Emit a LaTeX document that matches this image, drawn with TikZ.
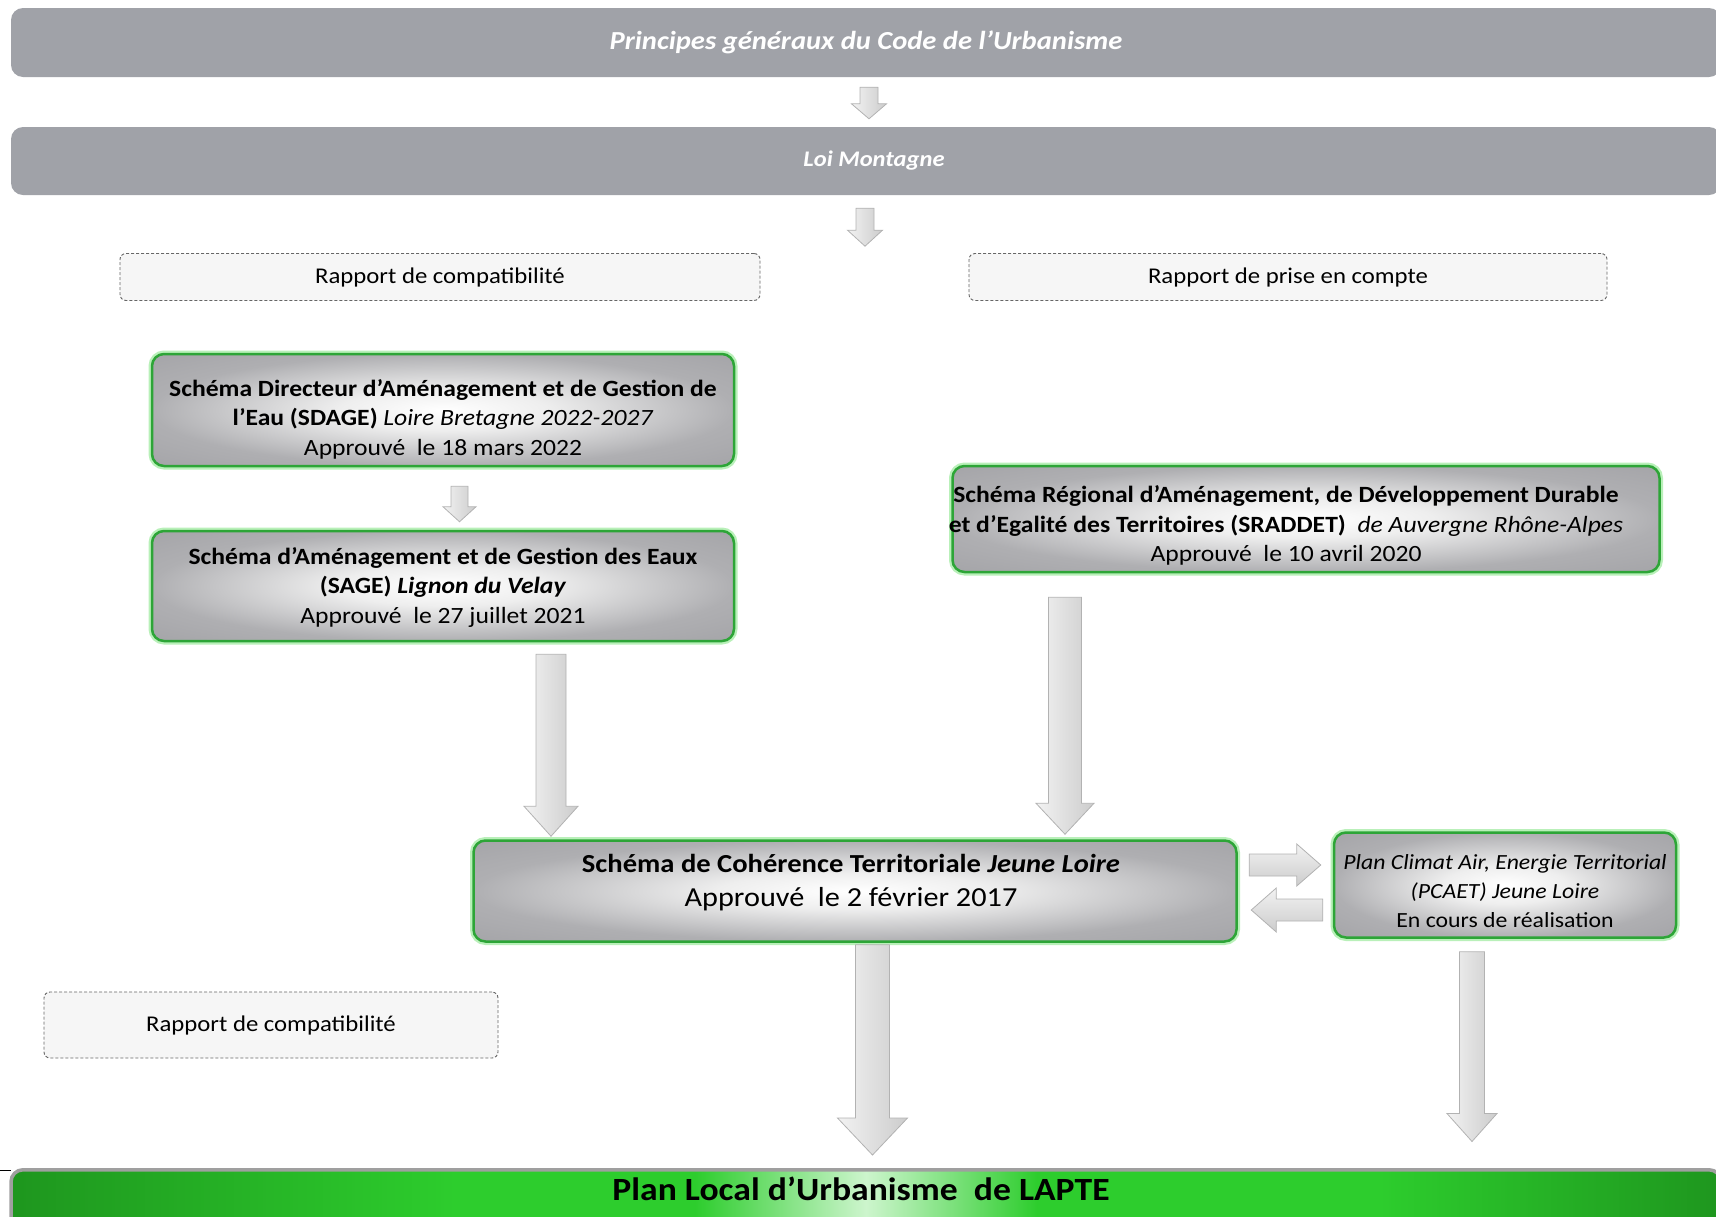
\documentclass[tikz,border=0pt]{standalone}
\usepackage{fontspec}
\setmainfont{Carlito}[FakeStretch=1.1]
\usetikzlibrary{calc}

\definecolor{grisbandeau}{RGB}{160,162,168}
\definecolor{vertbord}{RGB}{45,165,55}
\definecolor{vertlueur}{RGB}{185,240,185}
\definecolor{vertfonce}{RGB}{30,150,30}
\definecolor{vertvif}{RGB}{45,205,45}
\definecolor{vertclair}{RGB}{205,245,205}
\definecolor{grisclair}{RGB}{238,238,238}
\definecolor{grismoyen}{RGB}{175,175,178}
\definecolor{grisbord}{RGB}{160,160,164}

\pgfdeclareradialshading{boitegrise}{\pgfpoint{0bp}{0bp}}{color(0bp)=(white); color(9bp)=(grisclair); color(25bp)=(grismoyen); color(40bp)=(grisbord)}
\pgfdeclarehorizontalshading{plu}{100bp}{color(0bp)=(vertfonce); color(25bp)=(vertfonce); color(38bp)=(vertvif); color(45bp)=(vertvif); color(50bp)=(vertclair); color(55bp)=(vertvif); color(65bp)=(vertvif); color(75bp)=(vertfonce); color(100bp)=(vertfonce)}

\tikzset{
  bandeau/.style={fill=grisbandeau, rounded corners=12pt, minimum width=1710pt, inner sep=0pt,
    text=white, font=\bfseries\itshape},
  boite/.style={shading=boitegrise, draw=vertbord, line width=2.5pt, rounded corners=12pt,
    preaction={draw=vertlueur, line width=7pt}, inner sep=0pt},
  texte/.style={align=center, inner sep=0pt, font=\fontsize{23.3}{29.5}\selectfont},
  rapport/.style={draw=gray!80!black, line width=0.9pt, dash pattern=on 3pt off 2pt, fill=gray!7,
    rounded corners=6pt, inner sep=0pt, font=\fontsize{22.5}{26}\selectfont},
  fleche/.style={draw=gray!60, line width=0.8pt, left color=gray!10, right color=gray!40},
  flecheh/.style={top color=gray!10, bottom color=gray!40},
}

% fleche pleine : [style] {depart} {arrivee} {demi-corps} {demi-tete} {longueur tete}
\newcommand{\fleche}[6][]{%
  \coordinate (fd) at #2;
  \coordinate (ff) at #3;
  \coordinate (fb) at ($(ff)!#6!(fd)$);
  \draw[fleche,#1] ($(fd)!#4!90:(ff)$) -- ($(fb)!#4!90:(ff)$) -- ($(fb)!#5!90:(ff)$) -- (ff)
    -- ($(fb)!#5!-90:(ff)$) -- ($(fb)!#4!-90:(ff)$) -- ($(fd)!#4!-90:(ff)$) -- cycle;
}

\begin{document}
\begin{tikzpicture}[x=1pt,y=-1pt]

\useasboundingbox (0,0) rectangle (1716,1216);

% Bandeaux du haut
\node[bandeau, minimum height=69pt, font=\fontsize{26}{30}\selectfont\bfseries\itshape] (principes) at (866,42.5) {Principes généraux du Code de l’Urbanisme};
\node[bandeau, minimum height=68pt, font=\fontsize{22.3}{26}\selectfont\bfseries\itshape] (loi) at (866,161) {\hspace*{16pt}Loi Montagne};

% Rapports
\node[rapport, minimum width=640pt, minimum height=47pt] (compat) at (440,277) {Rapport de compatibilité};
\node[rapport, minimum width=638pt, minimum height=47pt] (prise) at (1288,277) {Rapport de prise en compte};
\node[rapport, minimum width=454pt, minimum height=66pt] (compatb) at (271,1025) {Rapport de compatibilité};

% SDAGE
\node[boite, minimum width=582pt, minimum height=112pt] (sdage) at (443,410) {};
\node[texte] (sdagetxt) at ($(sdage)+(0,9)$)
  {\textbf{Schéma Directeur d’Aménagement et de Gestion de}\\
   \textbf{l’Eau (SDAGE)} \textit{Loire Bretagne 2022-2027}\\
   Approuvé\ \ le 18 mars 2022};

% SAGE
\node[boite, minimum width=582pt, minimum height=110pt] (sage) at (443,586) {};
\node[texte] (sagetxt) at ($(sage)+(0,1.5)$)
  {\textbf{Schéma d’Aménagement et de Gestion des Eaux}\\
   \textbf{(SAGE) \textit{Lignon du Velay}}\\
   Approuvé\ \ le 27 juillet 2021};

% SRADDET
\node[boite, minimum width=707pt, minimum height=106pt] (sraddet) at (1306,519) {};
\node[texte] (sraddettxt) at ($(sraddet)+(-20,6.5)$)
  {\textbf{Schéma Régional d’Aménagement, de Développement Durable}\\
   \textbf{et d’Egalité des Territoires (SRADDET)}\ \ \textit{de Auvergne Rhône-Alpes}\\
   Approuvé\ \ le 10 avril 2020};

% SCoT
\node[boite, minimum width=763pt, minimum height=101pt] (scot) at (855,891) {};
\node[texte, font=\fontsize{26}{34}\selectfont] (scottxt) at ($(scot)+(-4,-8.5)$)
  {\textbf{Schéma de Cohérence Territoriale \textit{Jeune Loire}}\\
   {\fontsize{27.5}{34}\selectfont Approuvé\ \ le 2 février 2017}};

% PCAET
\node[boite, minimum width=342pt, minimum height=105pt] (pcaet) at (1505,885) {};
\node[texte, font=\fontsize{21.6}{29}\selectfont] (pcaettxt) at ($(pcaet)+(0,6)$)
  {\textit{Plan Climat Air, Energie Territorial}\\
   \textit{(PCAET) Jeune Loire}\\
   En cours de réalisation};

% Plan Local d'Urbanisme
\draw (0,1170) -- (11,1170);
\node[shading=plu, draw=gray!75, line width=3.5pt, rounded corners=12pt, minimum width=1710pt,
  minimum height=70pt, inner sep=0pt, anchor=north] (plu) at (866,1168) {};
\node[font=\fontsize{32.4}{36}\selectfont\bfseries] (plutxt) at (861,1189) {Plan Local d’Urbanisme\ \ de LAPTE};

% Fleches
\fleche{($(principes.south)+(3,10)$)}{($(loi.north)+(3,-8)$)}{9pt}{17.5pt}{15pt}
\fleche{($(loi.south)+(-1,13)$)}{($(loi.south)+(-1,51)$)}{9pt}{17.5pt}{16pt}
\fleche{($(sdage.south)+(16.5,19)$)}{($(sage.north)+(16.5,-8)$)}{8.5pt}{16.5pt}{15pt}
\fleche{($(sage.south)+(108,12)$)}{($(scot.north)+(-304,-3)$)}{15pt}{27pt}{30pt}
\fleche{($(sraddet.south)+(-241,24)$)}{($(scot.north)+(210,-5)$)}{16.5pt}{29pt}{31pt}
\fleche{($(scot.south)+(17.5,2)$)}{($(plu.north)+(6.5,-13)$)}{17pt}{35pt}{37pt}
\fleche{($(pcaet.south)+(-33,13)$)}{($(plu.north)+(606,-26.5)$)}{12.5pt}{25pt}{28pt}
\fleche[flecheh]{($(scot.east)+(11.5,-26)$)}{($(pcaet.west)+(-12,-20)$)}{11pt}{21pt}{24pt}
\fleche[flecheh]{($(pcaet.west)+(-10,25)$)}{($(scot.east)+(13.5,19)$)}{11pt}{22pt}{25pt}

\end{tikzpicture}
\end{document}
